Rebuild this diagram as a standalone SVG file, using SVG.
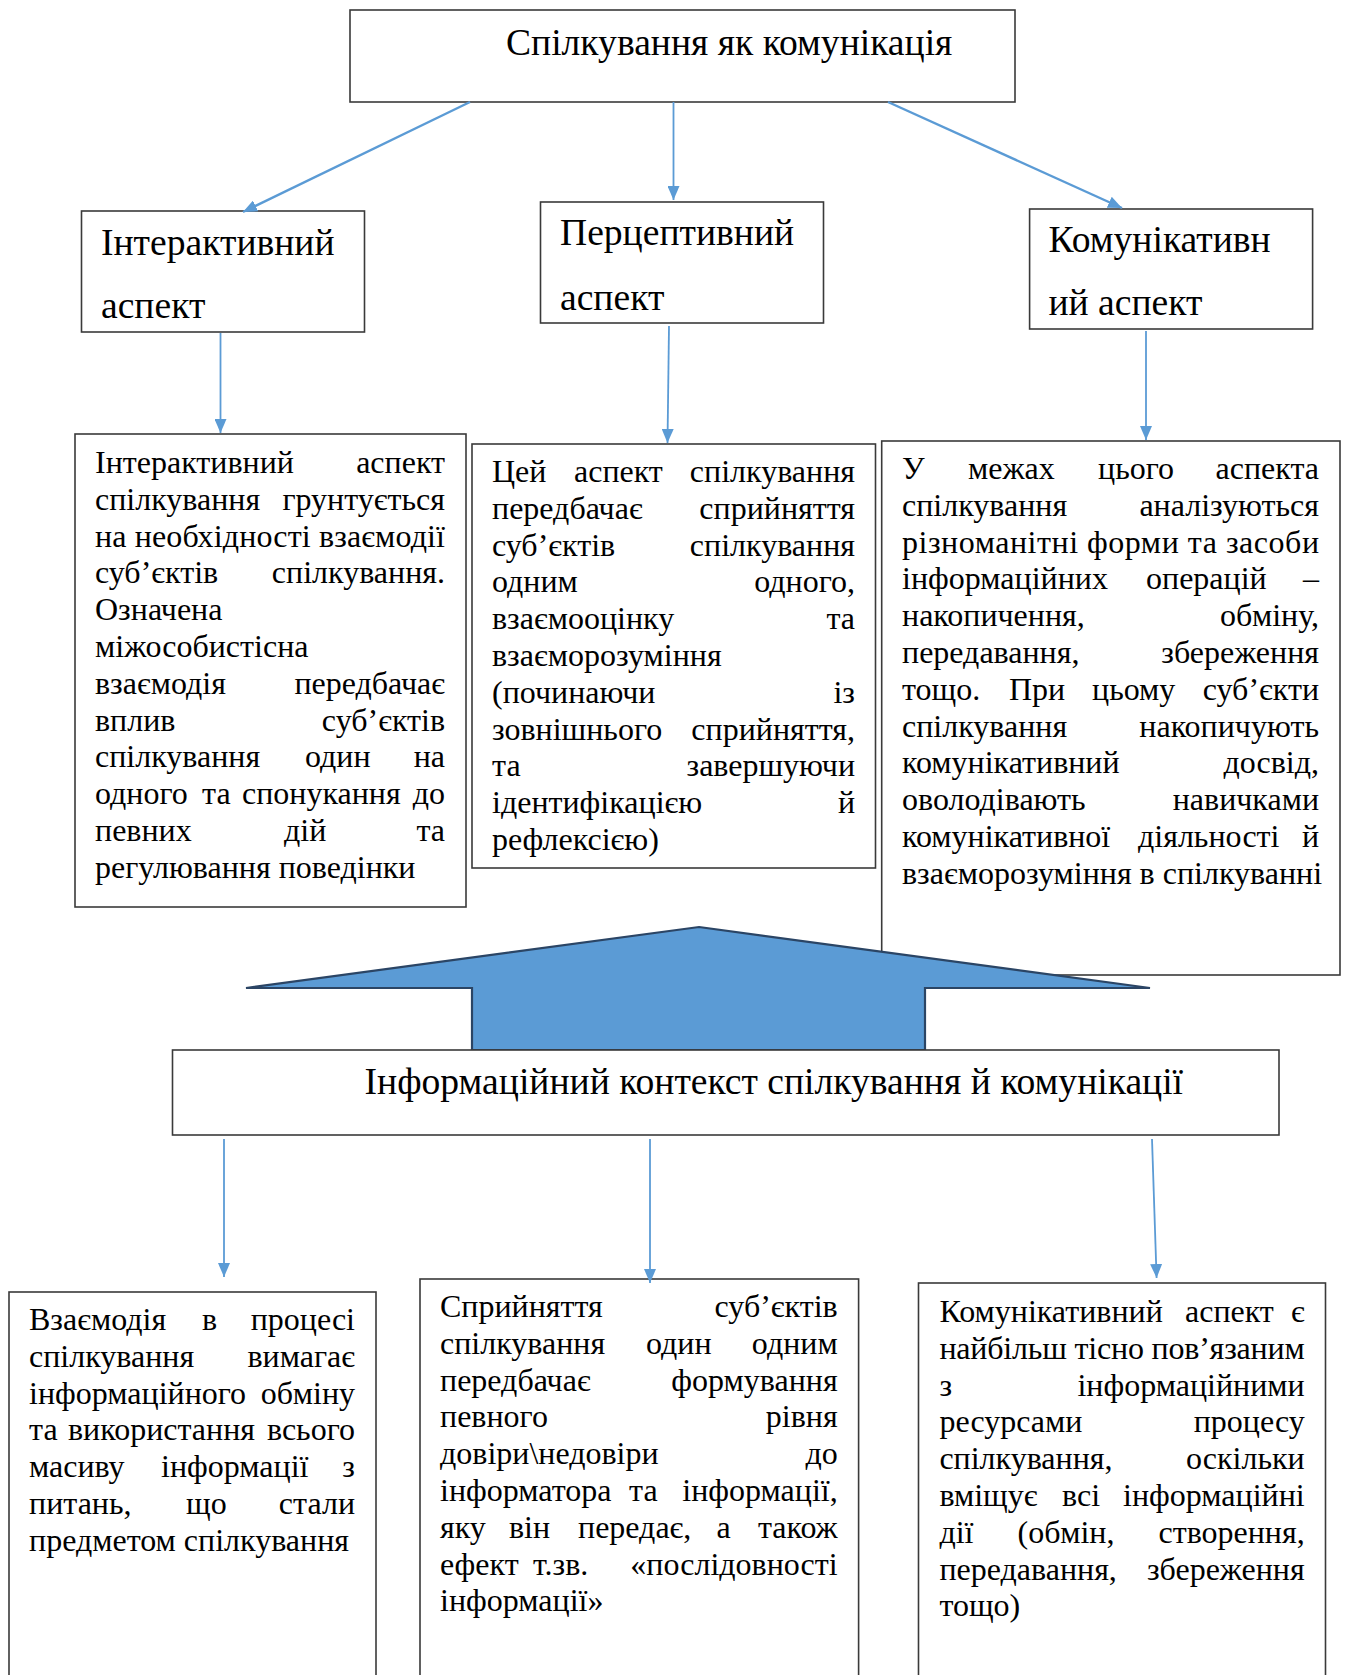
<svg xmlns="http://www.w3.org/2000/svg" width="1346" height="1675" viewBox="0 0 1346 1675">
<style>
.b{fill:#fff;stroke:#3a3a3a;stroke-width:1.6}
.t{font-family:"Liberation Serif","Times New Roman",serif;font-size:32px;fill:#000}
.h{font-size:37.6px}
.r{text-anchor:end}
.c{stroke:#5B9BD5;stroke-width:1.8;fill:none}
.cw{stroke-width:2.4}
.big{fill:#5B9BD5;stroke:#2B4565;stroke-width:2.2}
</style>
<defs>
<marker id="ah" markerWidth="14" markerHeight="12" refX="14" refY="6" orient="auto" markerUnits="userSpaceOnUse"><path d="M0,0 L14,6 L0,12 z" fill="#5B9BD5"/></marker>
</defs>
<rect width="1346" height="1675" fill="#fff"/>

<g id="root">
<rect class="b" x="350" y="10" width="665" height="92"/>
<text class="t h" x="506" y="55">Спілкування як комунікація</text>
</g>

<g id="interactive">
<rect class="b" x="81.5" y="211" width="283" height="121"/>
<text class="t h" x="101" y="255">Інтерактивний</text>
<text class="t h" x="101" y="318">аспект</text>
</g>

<g id="perceptive">
<rect class="b" x="540.5" y="202" width="283" height="121"/>
<text class="t h" x="560" y="245">Перцептивний</text>
<text class="t h" x="560" y="310">аспект</text>
</g>

<g id="communicative">
<rect class="b" x="1029.6" y="209" width="283" height="120"/>
<text class="t h" x="1048.5" y="252">Комунікативн</text>
<text class="t h" x="1048.5" y="315">ий аспект</text>
</g>

<g id="desc-interactive">
<rect class="b" x="75" y="434" width="391" height="473"/>
<text class="t" x="95" y="473">Інтерактивний</text><text class="t r" x="445" y="473">аспект</text>
<text class="t" x="95" y="509.8">спілкування</text><text class="t r" x="445" y="509.8">грунтується</text>
<text class="t" x="95" y="546.6" textLength="350" lengthAdjust="spacing">на необхідності взаємодії</text>
<text class="t" x="95" y="583.4">суб’єктів</text><text class="t r" x="445" y="583.4">спілкування.</text>
<text class="t" x="95" y="620.2">Означена</text>
<text class="t" x="95" y="657">міжособистісна</text>
<text class="t" x="95" y="693.8">взаємодія</text><text class="t r" x="445" y="693.8">передбачає</text>
<text class="t" x="95" y="730.6">вплив</text><text class="t r" x="445" y="730.6">суб’єктів</text>
<text class="t" y="767.4"><tspan x="95">спілкування</tspan><tspan x="305">один</tspan></text><text class="t r" x="445" y="767.4">на</text>
<text class="t" y="804.2"><tspan x="95">одного</tspan><tspan x="202">та</tspan><tspan x="242">спонукання</tspan></text><text class="t r" x="445" y="804.2">до</text>
<text class="t" y="841"><tspan x="95">певних</tspan><tspan x="284">дій</tspan></text><text class="t r" x="445" y="841">та</text>
<text class="t" x="95" y="877.8">регулювання поведінки</text>
</g>

<g id="desc-perceptive">
<rect class="b" x="472" y="444" width="403.5" height="424"/>
<text class="t" y="482"><tspan x="492">Цей</tspan><tspan x="574">аспект</tspan></text><text class="t r" x="855" y="482">спілкування</text>
<text class="t" x="492" y="518.8">передбачає</text><text class="t r" x="855" y="518.8">сприйняття</text>
<text class="t" x="492" y="555.6">суб’єктів</text><text class="t r" x="855" y="555.6">спілкування</text>
<text class="t" x="492" y="592.4">одним</text><text class="t r" x="855" y="592.4">одного,</text>
<text class="t" x="492" y="629.2">взаємооцінку</text><text class="t r" x="855" y="629.2">та</text>
<text class="t" x="492" y="666">взаєморозуміння</text>
<text class="t" x="492" y="702.8">(починаючи</text><text class="t r" x="855" y="702.8">із</text>
<text class="t" x="492" y="739.6">зовнішнього</text><text class="t r" x="855" y="739.6">сприйняття,</text>
<text class="t" x="492" y="776.4">та</text><text class="t r" x="855" y="776.4">завершуючи</text>
<text class="t" x="492" y="813.2">ідентифікацією</text><text class="t r" x="855" y="813.2">й</text>
<text class="t" x="492" y="850">рефлексією)</text>
</g>

<g id="desc-communicative">
<rect class="b" x="881.7" y="441" width="458.3" height="534"/>
<text class="t" y="479"><tspan x="902">У</tspan><tspan x="968">межах</tspan><tspan x="1098">цього</tspan></text><text class="t r" x="1319" y="479">аспекта</text>
<text class="t" x="902" y="515.8">спілкування</text><text class="t r" x="1319" y="515.8">аналізуються</text>
<text class="t" x="902" y="552.6" textLength="417" lengthAdjust="spacing">різноманітні форми та засоби</text>
<text class="t" y="589.4"><tspan x="902">інформаційних</tspan><tspan x="1146">операцій</tspan></text><text class="t r" x="1319" y="589.4">–</text>
<text class="t" x="902" y="626.2">накопичення,</text><text class="t r" x="1319" y="626.2">обміну,</text>
<text class="t" x="902" y="663">передавання,</text><text class="t r" x="1319" y="663">збереження</text>
<text class="t" y="699.8"><tspan x="902">тощо.</tspan><tspan x="1009">При</tspan><tspan x="1092">цьому</tspan></text><text class="t r" x="1319" y="699.8">суб’єкти</text>
<text class="t" x="902" y="736.6">спілкування</text><text class="t r" x="1319" y="736.6">накопичують</text>
<text class="t" x="902" y="773.4">комунікативний</text><text class="t r" x="1319" y="773.4">досвід,</text>
<text class="t" x="902" y="810.2">оволодівають</text><text class="t r" x="1319" y="810.2">навичками</text>
<text class="t" y="847"><tspan x="902">комунікативної</tspan><tspan x="1138">діяльності</tspan></text><text class="t r" x="1319" y="847">й</text>
<text class="t" x="902" y="883.8">взаєморозуміння в спілкуванні</text>
</g>

<g id="big-arrow">
<polygon class="big" points="699,927 1150,988 925,988 925,1050 472,1050 472,988 246,988"/>
</g>

<g id="context">
<rect class="b" x="172.5" y="1050" width="1106.5" height="85"/>
<text class="t h" x="364.6" y="1094">Інформаційний контекст спілкування й комунікації</text>
</g>

<g id="bottom-interactive">
<rect class="b" x="9" y="1292" width="367" height="400"/>
<text class="t" y="1330"><tspan x="29">Взаємодія</tspan><tspan x="202">в</tspan></text><text class="t r" x="355" y="1330">процесі</text>
<text class="t" x="29" y="1366.8">спілкування</text><text class="t r" x="355" y="1366.8">вимагає</text>
<text class="t" x="29" y="1403.6">інформаційного</text><text class="t r" x="355" y="1403.6">обміну</text>
<text class="t" y="1440.4"><tspan x="29">та</tspan><tspan x="68">використання</tspan></text><text class="t r" x="355" y="1440.4">всього</text>
<text class="t" y="1477.2"><tspan x="29">масиву</tspan><tspan x="161">інформації</tspan></text><text class="t r" x="355" y="1477.2">з</text>
<text class="t" y="1514"><tspan x="29">питань,</tspan><tspan x="186">що</tspan></text><text class="t r" x="355" y="1514">стали</text>
<text class="t" x="29" y="1550.8">предметом спілкування</text>
</g>

<g id="bottom-perceptive">
<rect class="b" x="420" y="1279" width="438.6" height="420"/>
<text class="t" x="440" y="1317">Сприйняття</text><text class="t r" x="837.7" y="1317">суб’єктів</text>
<text class="t" y="1353.8"><tspan x="440">спілкування</tspan><tspan x="646">один</tspan></text><text class="t r" x="837.7" y="1353.8">одним</text>
<text class="t" x="440" y="1390.6">передбачає</text><text class="t r" x="837.7" y="1390.6">формування</text>
<text class="t" x="440" y="1427.4">певного</text><text class="t r" x="837.7" y="1427.4">рівня</text>
<text class="t" x="440" y="1464.2">довіри\недовіри</text><text class="t r" x="837.7" y="1464.2">до</text>
<text class="t" y="1501"><tspan x="440">інформатора</tspan><tspan x="629">та</tspan></text><text class="t r" x="837.7" y="1501">інформації,</text>
<text class="t" y="1537.8"><tspan x="440">яку</tspan><tspan x="509">він</tspan><tspan x="578">передає,</tspan><tspan x="716.6">а</tspan></text><text class="t r" x="837.7" y="1537.8">також</text>
<text class="t" y="1574.6"><tspan x="440">ефект</tspan><tspan x="533">т.зв.</tspan></text><text class="t r" x="837.7" y="1574.6">«послідовності</text>
<text class="t" x="440" y="1611.4">інформації»</text>
</g>

<g id="bottom-communicative">
<rect class="b" x="918.5" y="1283" width="407" height="420"/>
<text class="t" y="1322"><tspan x="939.4">Комунікативний</tspan><tspan x="1185">аспект</tspan></text><text class="t r" x="1304.7" y="1322">є</text>
<text class="t" x="939.4" y="1358.8" textLength="365.3" lengthAdjust="spacing">найбільш тісно пов’язаним</text>
<text class="t" x="939.4" y="1395.6">з</text><text class="t r" x="1304.7" y="1395.6">інформаційними</text>
<text class="t" x="939.4" y="1432.4">ресурсами</text><text class="t r" x="1304.7" y="1432.4">процесу</text>
<text class="t" x="939.4" y="1469.2">спілкування,</text><text class="t r" x="1304.7" y="1469.2">оскільки</text>
<text class="t" y="1506"><tspan x="939.4">вміщує</tspan><tspan x="1062">всі</tspan></text><text class="t r" x="1304.7" y="1506">інформаційні</text>
<text class="t" y="1542.8"><tspan x="939.4">дії</tspan><tspan x="1017.5">(обмін,</tspan></text><text class="t r" x="1304.7" y="1542.8">створення,</text>
<text class="t" x="939.4" y="1579.6">передавання,</text><text class="t r" x="1304.7" y="1579.6">збереження</text>
<text class="t" x="939.4" y="1616.4">тощо)</text>
</g>

<g id="connectors">
<line class="c cw" x1="470" y1="102" x2="243" y2="212" marker-end="url(#ah)"/>
<line class="c" x1="673.5" y1="102" x2="673.5" y2="200" marker-end="url(#ah)"/>
<line class="c cw" x1="888" y1="102" x2="1122" y2="208" marker-end="url(#ah)"/>
<line class="c" x1="220.5" y1="333" x2="220.5" y2="433" marker-end="url(#ah)"/>
<line class="c" x1="669" y1="326" x2="667.5" y2="443" marker-end="url(#ah)"/>
<line class="c" x1="1146" y1="331" x2="1146" y2="440" marker-end="url(#ah)"/>
<line class="c" x1="224" y1="1139" x2="224" y2="1277" marker-end="url(#ah)"/>
<line class="c" x1="650" y1="1139" x2="650" y2="1283" marker-end="url(#ah)"/>
<line class="c" x1="1152" y1="1139" x2="1156.6" y2="1278" marker-end="url(#ah)"/>
</g>
</svg>
